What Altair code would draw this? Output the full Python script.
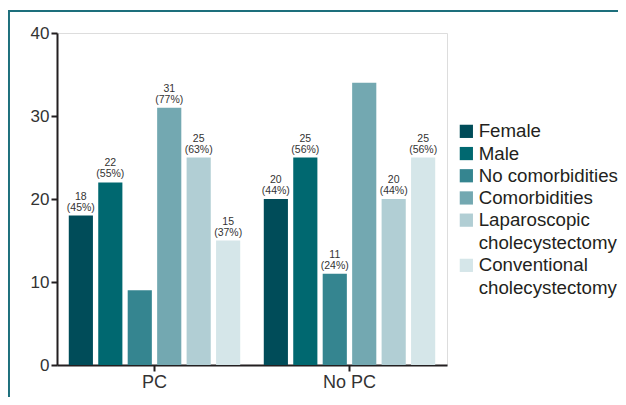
import altair as alt
import pandas as pd

groups = ["PC", "No PC"]
categories = ["Female", "Male", "No comorbidities", "Comorbidities",
              "Laparoscopic cholecystectomy", "Conventional cholecystectomy"]
colors = ["#004c59", "#006870", "#358590", "#73a8b1", "#b1ced4", "#d5e6e9"]
pc_values = [18, 22, 9, 31, 25, 15]
nopc_values = [20, 25, 11, 34, 20, 25]
pc_pct = ["45%", "55%", "", "77%", "63%", "37%"]
nopc_pct = ["44%", "56%", "24%", "", "44%", "56%"]

rows = []
for g, vals, pcts in [("PC", pc_values, pc_pct), ("No PC", nopc_values, nopc_pct)]:
    for c, v, p in zip(categories, vals, pcts):
        rows.append({"group": g, "category": c, "value": v,
                     "label": f"{v}\n({p})" if p else ""})
df = pd.DataFrame(rows)

FONT = "Liberation Sans"
W, H = 390, 332
PL, PT, PR, PB = 49, 25, 171, 32

x = alt.X("group:N", sort=groups, title=None,
          scale=alt.Scale(paddingInner=0, paddingOuter=0),
          axis=alt.Axis(labelAngle=0, labelFontSize=18, labelColor="#333333",
                        labelFont=FONT, domainColor="#231f20", domainWidth=2,
                        tickColor="#231f20", tickWidth=2, tickSize=6,
                        labelPadding=2))
xoff = alt.XOffset("category:N", sort=categories,
                   scale=alt.Scale(paddingInner=0.18, paddingOuter=0.4))
y = alt.Y("value:Q", title=None,
          scale=alt.Scale(domain=[0, 40], nice=False),
          axis=alt.Axis(values=[0, 10, 20, 30, 40], labelFontSize=17,
                        labelColor="#333333", labelFont=FONT, grid=False,
                        domainColor="#231f20", domainWidth=2,
                        tickColor="#231f20", tickWidth=2, tickSize=6,
                        labelPadding=2))

label_expr = ("datum.label == 'Laparoscopic cholecystectomy' ? ['Laparoscopic', 'cholecystectomy'] : "
              "datum.label == 'Conventional cholecystectomy' ? ['Conventional', 'cholecystectomy'] : datum.label")

bars = alt.Chart(df).mark_bar().encode(
    x=x, xOffset=xoff, y=y,
    color=alt.Color("category:N", sort=categories,
                    scale=alt.Scale(domain=categories, range=colors),
                    legend=alt.Legend(title=None, orient="none", legendX=400, legendY=89,
                                      symbolType="square", symbolSize=175,
                                      symbolStrokeWidth=0, labelFontSize=18.7,
                                      labelFont=FONT, labelColor="#231f20",
                                      labelLimit=300, rowPadding=2.2,
                                      labelOffset=3,
                                      labelExpr=label_expr))
)

text = alt.Chart(df).mark_text(lineBreak="\n", baseline="bottom", dy=-14,
                               fontSize=10.5, font=FONT, color="#333333",
                               lineHeight=11).encode(
    x=x, xOffset=xoff, y=y, text="label:N"
)

frame_top = alt.Chart(df).mark_rule(color="#1e6f7c", strokeWidth=1.5).encode(
    x=alt.value(-PL), x2=alt.value(W + PR), y=alt.value(-PT + 3))
frame_left = alt.Chart(df).mark_rule(color="#1e6f7c", strokeWidth=1.5).encode(
    x=alt.value(-PL + 0.5), y=alt.value(-PT + 3), y2=alt.value(H + PB))

chart = alt.layer(bars, text, frame_top, frame_left).properties(
    width=W, height=H,
    autosize=alt.AutoSizeParams(type="none"),
    padding={"left": PL, "top": PT, "right": PR, "bottom": PB},
).configure_view(stroke=None).configure(
    style={"guide-label": {"lineHeight": 23}}
)

chart.save("out.html", embed_options={"renderer": "svg", "actions": False})
